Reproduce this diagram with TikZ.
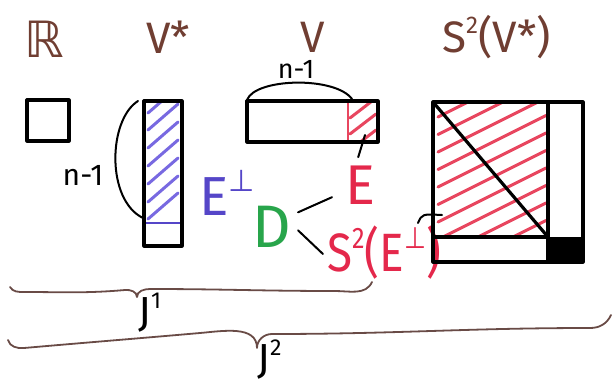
\documentclass[tikz,border=0pt]{standalone}
\usepackage{fontspec}
\setmainfont{Fira Sans}
\newfontfamily\symfont{DejaVu Sans}
\usepackage{graphicx}
\usetikzlibrary{calc}
\definecolor{lbrown}{RGB}{112,62,50}
\definecolor{bracebrown}{RGB}{105,75,70}
\definecolor{hblue}{RGB}{120,105,225}
\definecolor{tblue}{RGB}{85,70,200}
\definecolor{hred}{RGB}{232,70,95}
\definecolor{tred}{RGB}{228,40,75}
\definecolor{tgreen}{RGB}{40,165,75}
\newcommand\mysup[1]{\raisebox{0.42em}{\scalebox{0.55}{#1}}}
\newcommand\fs[1]{\fontsize{#1}{#1}\selectfont}
\begin{document}
\begin{tikzpicture}[x=1pt,y=-1pt,
  ink/.style={line width=3.2pt,line cap=round,line join=round,black},
  thinink/.style={line width=2pt,line cap=round,line join=round,black},
  hatchb/.style={line width=3pt,hblue,line cap=round},
  hatchr/.style={line width=3pt,hred,line cap=round},
  bracepath/.style={line width=1.8pt,bracebrown,line cap=round,line join=round},
  txt/.style={inner sep=0pt,anchor=base west},
  lbl/.style={txt,lbrown,font=\fs{44}}]
\useasboundingbox (0,0) rectangle (613,386);

% top labels
\node[lbl,font=\fs{50}] (R) at (24,57) {\symfont ℝ};
\node[lbl] (Vs) at (146,53) {V*};
\node[lbl,anchor=base] (V) at (313,52) {V};
\node[lbl] (S2Vs) at (442,52) {S\mysup{2}(V*)};

% R box
\draw[ink] (27,100) rectangle (69,141);

% V* bar
\begin{scope}
  \clip (144,101) rectangle (182,223);
  \foreach \y in {113,130,148,166,184,202,219}
    \draw[hatchb] (148,\y) -- ++(30,-26);
\end{scope}
\draw[line width=2.8pt,tblue] (144,223) -- (182,223);
\draw[ink] (144,101) rectangle (182,246);
\draw[thinink] (138,101) .. controls (108,120) and (106,200) .. (143,218);
\node[txt,anchor=base,font=\fs{30}] (nl) at (83,185) {n-1};

% V box
\begin{scope}
  \clip (348,101) rectangle (378,142);
  \foreach \y in {118,134,150}
    \draw[hatchr] (350,\y) -- ++(26,-20);
\end{scope}
\draw[line width=2.4pt,hred] (348,103) -- (348,140);
\draw[ink] (247,101) rectangle (378,142);
\draw[thinink] (247,100) .. controls (255,78) and (335,76) .. (352,99);
\node[txt,anchor=base,font=\fs{27}] (nt) at (296,78) {n-1};

% labels in the middle
\node[txt,tblue,font=\fs{55}] (Eperp) at (199,215) {E\mysup{\symfont ⊥}};
\node[txt,tgreen,font=\fs{60}] (D) at (252,247) {D};
\node[txt,tred,font=\fs{56}] (E) at (345,204) {E};
\node[txt,tred,font=\fs{54}] (S2E) at (327,271) {\scalebox{0.85}[1]{S\mysup{2}(E\mysup{\symfont ⊥})}};

\coordinate (eh) at (365,135);
\draw[thinink] (eh) -- ([xshift=-2pt,yshift=8pt]E.north);
\draw[thinink] ($(D.east)+(7,-14)$) -- ($(E.south west)+(-13,-7)$);
\draw[thinink] ($(D.east)+(7,4)$) -- ($(S2E.south west)+(-4,-25)$);
\coordinate (c1) at (418,223);
\coordinate (c2) at (442,215);
\draw[thinink] (c1) .. controls (422,214) .. (c2);

% S^2(V*) square
\begin{scope}
  \clip (433,102) rectangle (548,237);
  \foreach \k in {0,...,10}
    \draw[hatchr] (438,117+17.5*\k) -- ++(108,-54);
\end{scope}
\fill (548,237) rectangle (583,262);
\draw[ink] (433,102) rectangle (583,262);
\draw[ink] (548,102) -- (548,262);
\draw[ink] (433,237) -- (548,237);
\draw[ink] (433,102) -- (548,237);

% braces
\draw[bracepath] (10,287) to[out=-60,in=180] (24,292) to[out=0,in=185] (125,290)
  to[out=5,in=90] (137,297) to[out=90,in=180] (150,289) to[out=0,in=180] (335,291)
  to[out=0,in=-115] (372,282);
\node[txt,font=\fs{42}] (J1) at (138,326) {J\mysup{1}};

\draw[bracepath] (8,340) to[out=-75,in=185] (24,348) to[out=5,in=185] (200,333)
  to[out=5,in=90] (257,348) to[out=90,in=180] (272,334) to[out=0,in=180] (590,328)
  to[out=0,in=-115] (611,315);
\node[txt,font=\fs{42}] (J2) at (257,373) {J\mysup{2}};
\end{tikzpicture}
\end{document}
